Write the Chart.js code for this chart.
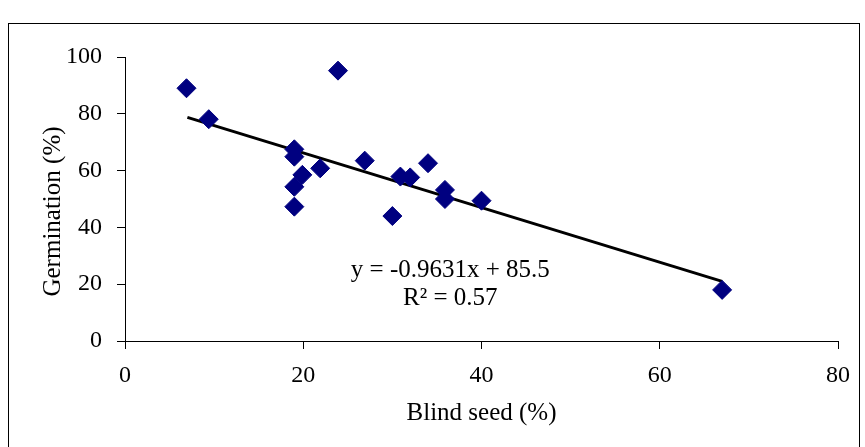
<!DOCTYPE html>
<html>
<head>
<meta charset="utf-8">
<script src="https://cdn.jsdelivr.net/npm/chart.js@4/dist/chart.umd.min.js"></script>
<style>
  body { margin: 0; background: #fff; }
  canvas { display: block; }
</style>
</head>
<body>
<canvas id="chart" width="865" height="447"></canvas>
<script>
// data
let blindSeed = [6.9, 9.4, 23.9, 19.0, 19.0, 19.9, 19.0, 19.0, 21.9, 26.9, 30.0, 30.9, 32.0, 34.0, 35.9, 35.9, 40.0, 67.0];
let germination = [89.0, 78.1, 95.2, 67.5, 64.9, 58.5, 54.3, 47.3, 60.8, 63.5, 44.0, 57.9, 57.6, 62.6, 53.2, 50.0, 49.4, 18.0];
let trendX = [7, 67];
let slope = -0.9631;
let intercept = 85.5;
let eqText = ['y = -0.9631x + 85.5', 'R² = 0.57'];

document.addEventListener('DOMContentLoaded', () => {

    let ctx = document.getElementById('chart').getContext('2d');

    let points = blindSeed.map((x, i) => ({ x: x, y: germination[i] }));
    let trend = trendX.map(x => ({ x: x, y: slope * x + intercept }));

    let family = '"Liberation Serif", "Times New Roman", serif';
    let tickFont = { family: family, size: 24 };
    let titleFont = { family: family, size: 25 };

    //outer frame + equation text
    let extras = {
        id: 'extras',
        afterDraw(chart) {
            let c = chart.ctx;
            c.save();
            c.strokeStyle = '#000';
            c.lineWidth = 1;
            c.strokeRect(8.5, 23.5, 851, 440);
            c.fillStyle = '#000';
            c.font = '25px ' + family;
            c.textAlign = 'center';
            c.textBaseline = 'middle';
            let xs = chart.scales.x, ys = chart.scales.y;
            c.fillText(eqText[0], xs.getPixelForValue(36.5), ys.getPixelForValue(25.0));
            c.fillText(eqText[1], xs.getPixelForValue(36.5), ys.getPixelForValue(15.0));
            c.restore();
        }
    };

    let chart = new Chart(ctx, {
        type: 'scatter',
        data: {
            datasets: [{
                data: points,
                pointStyle: 'rectRot',
                pointRadius: 9.5,
                backgroundColor: '#000080',
                borderColor: '#000080',
                borderWidth: 1
            }, {
                type: 'line',
                data: trend,
                borderColor: '#000',
                borderWidth: 3,
                pointRadius: 0,
                fill: false
            }]
        },
        options: {
            responsive: false,
            animation: false,
            layout: { padding: { top: 57, right: 27, left: 0, bottom: 0 } },
            plugins: { legend: { display: false }, tooltip: { enabled: false } },
            scales: {
                x: {
                    type: 'linear',
                    min: 0, max: 80,
                    ticks: { stepSize: 20, color: '#000', font: tickFont, padding: 12 },
                    grid: { drawOnChartArea: false, color: '#000', tickLength: 8 },
                    border: { color: '#000', width: 1 },
                    title: { display: true, text: 'Blind seed (%)', color: '#000', font: titleFont, padding: { top: 10, bottom: 19 } },
                    afterFit(scale) { scale.height = 106; }
                },
                y: {
                    min: 0, max: 100,
                    ticks: { stepSize: 20, color: '#000', font: tickFont, padding: 15 },
                    grid: { drawOnChartArea: false, color: '#000', tickLength: 8 },
                    border: { color: '#000', width: 1 },
                    //trailing nbsp nudges the title down a little, like the original
                    title: { display: true, text: 'Germination (%)\u00a0\u00a0\u00a0\u00a0', color: '#000', font: titleFont, padding: { top: 38, bottom: 4 } },
                    afterFit(scale) { scale.width = 125; }
                }
            }
        },
        plugins: [extras]
    });

})
</script>
</body>
</html>
